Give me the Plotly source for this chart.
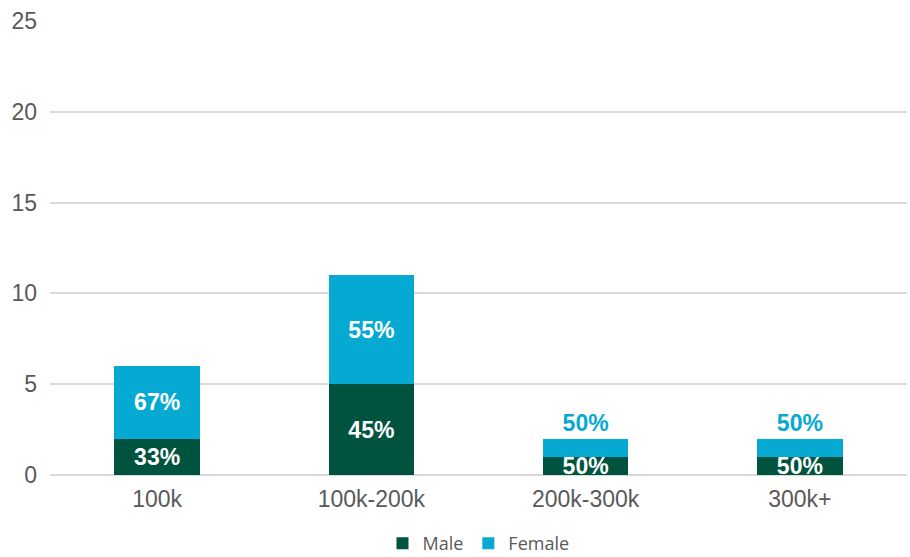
import plotly.graph_objects as go

# Income bands and head counts per gender
categories = ["100k", "100k-200k", "200k-300k", "300k+"]
male = [2, 5, 1, 1]
female = [4, 6, 1, 1]

totals = [m + f for m, f in zip(male, female)]
male_pct = [f"{round(100 * m / t)}%" for m, t in zip(male, totals)]
female_pct = [f"{round(100 * f / t)}%" for f, t in zip(female, totals)]

MALE_COLOR = "#00533f"
FEMALE_COLOR = "#05a9d1"
TEXT_GRAY = "#595959"

# Short stacks cannot hold the female label, so it sits above the bar
female_pos = ["inside" if t > 4 else "outside" for t in totals]
female_txt_color = ["white" if t > 4 else FEMALE_COLOR for t in totals]

fig = go.Figure()
fig.add_trace(go.Bar(
    x=categories, y=male, name="Male",
    marker=dict(color=MALE_COLOR, line=dict(width=0)),
    text=male_pct, texttemplate="<b>%{text}</b>",
    textposition="inside", insidetextanchor="middle",
    constraintext="none", cliponaxis=True,
    textfont=dict(family="Liberation Sans, Arial", size=23, color="white"),
    hoverinfo="skip",
))
fig.add_trace(go.Bar(
    x=categories, y=female, name="Female",
    marker=dict(color=FEMALE_COLOR, line=dict(width=0)),
    text=female_pct, texttemplate="<b>%{text}</b>",
    textposition=female_pos, insidetextanchor="middle",
    constraintext="none", cliponaxis=False,
    textfont=dict(family="Liberation Sans, Arial", size=23, color=female_txt_color),
    hoverinfo="skip",
))

fig.update_layout(
    barmode="stack",
    bargap=0.6,
    width=910, height=557,
    margin=dict(l=50, r=3, t=21, b=82, autoexpand=False),
    plot_bgcolor="white", paper_bgcolor="white",
    font=dict(family="Liberation Sans, Arial", color=TEXT_GRAY),
    legend=dict(
        orientation="h", x=0.5, xanchor="center",
        yref="container", y=0.024, yanchor="middle",
        font=dict(family="Open Sans", size=18, color=TEXT_GRAY),
        traceorder="normal",
    ),
    showlegend=True,
)
fig.update_xaxes(
    showline=False, showgrid=False, ticks="", ticklabelstandoff=8,
    tickfont=dict(size=23, color=TEXT_GRAY),
)
fig.update_yaxes(
    range=[0, 25], dtick=5, showgrid=True, gridcolor="#d9d9d9", gridwidth=1.5,
    zeroline=True, zerolinecolor="#d9d9d9", zerolinewidth=1.5,
    showline=False, ticks="", ticklabelstandoff=12,
    tickfont=dict(size=23, color=TEXT_GRAY),
)

fig.write_html("out.html")
